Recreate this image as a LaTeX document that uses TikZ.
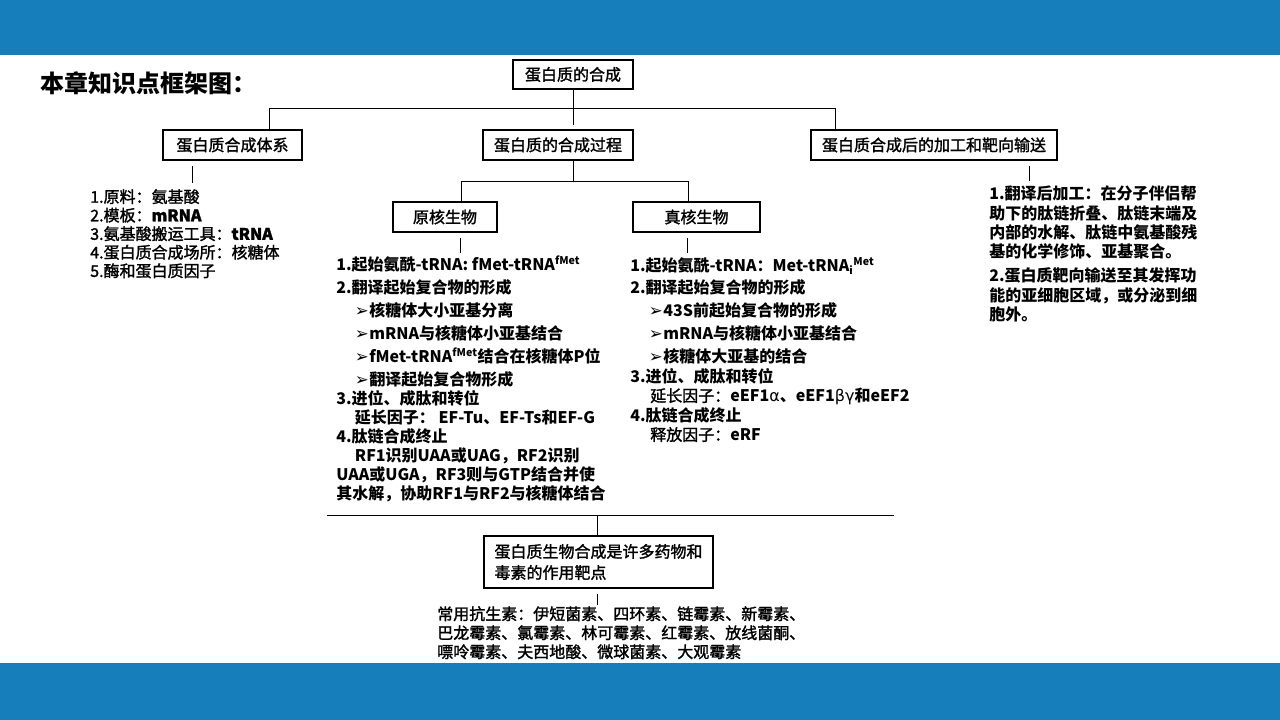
\documentclass[tikz,border=0pt]{standalone}
\usepackage{fontspec}
\setmainfont{Noto Sans CJK SC}
\newfontfamily\medfont{Noto Sans CJK SC}[FakeBold=1.6]
\newfontfamily\djv{DejaVu Sans}
\definecolor{bandblue}{RGB}{22,127,187}
\newcommand{\myarr}{\raisebox{0.3pt}{\djv\mdseries\fontsize{12.5}{12}\selectfont ➢}\hspace{0.3pt}}
\tikzset{
  box/.style={draw, line width=1.6pt, inner sep=0pt, align=center, font=\medfont\fontsize{12}{14}\selectfont},
  link/.style={draw, line width=0.75pt},
  stub/.style={draw, line width=0.75pt, shorten <=4pt},
  txt/.style={inner sep=0pt, anchor=north west, align=left},
}
\begin{document}
\begin{tikzpicture}[x=0.75pt,y=-0.75pt]
\useasboundingbox (0,0) rectangle (1280,720);
\fill[bandblue] (0,0) rectangle (1280,55);
\fill[bandblue] (0,663) rectangle (1280,720);

\node[anchor=west, inner sep=0pt, font=\fontsize{18}{20}\selectfont\bfseries] (title) at (40,83) {本章知识点框架图：};

% boxes
\node[box, minimum width=90pt, minimum height=21.75pt] (root) at (573,74.5) {蛋白质的合成};
\node[box, minimum width=104.25pt, minimum height=22.5pt] (sys) at (232.5,145) {蛋白质合成体系};
\node[box, minimum width=112.5pt, minimum height=22.5pt] (proc) at (558,145) {蛋白质的合成过程};
\node[box, minimum width=184.5pt, minimum height=22.5pt] (post) at (934,145) {蛋白质合成后的加工和靶向输送};
\node[box, minimum width=78pt, minimum height=22.5pt] (pro) at (445,217) {原核生物};
\node[box, minimum width=95.25pt, minimum height=22.5pt] (euk) at (696.5,217) {真核生物};
\node[box, minimum width=171.75pt, minimum height=38.5pt, align=left, font=\medfont\fontsize{12}{15.75}\selectfont] (target) at (598.5,562) {蛋白质生物合成是许多药物和\\毒素的作用靶点};

% connector coordinates
\coordinate (busL) at (269,109);
\coordinate (busR) at (835,109);
\coordinate (b2L) at (461,182);
\coordinate (b2R) at (688,182);
\coordinate (sysS) at (192,183);
\coordinate (proS) at (460,253);
\coordinate (eukS) at (687,253);
\coordinate (postS) at (1029,181);
\coordinate (hL) at (327,515);
\coordinate (hR) at (894,515);
\coordinate (hM) at (597,515);
\coordinate (tS) at (597,605);

\draw[link] (busL |- sys.north) -- (busL) -- (busR) -- (busR |- post.north);
\draw[link, shorten >=3pt] (root.south) -- (root.south |- proc.north);
\draw[link] (b2L |- pro.north) -- (b2L) -- (b2R) -- (b2R |- euk.north);
\draw[link] (root.south |- proc.south) -- (root.south |- b2L);
\draw[stub] (sysS |- sys.south) -- (sysS);
\draw[stub] (proS |- pro.south) -- (proS);
\draw[stub] (eukS |- euk.south) -- (eukS);
\draw[stub] (postS |- post.south) -- (postS);
\draw[link] (hL) -- (hR);
\draw[link] (hM) -- (hM |- target.north);
\draw[stub] (tS |- target.south) -- (tS);

% text blocks
\node[txt, font=\medfont\fontsize{12}{13.9}\selectfont] (syslist) at (90,189) {%
1.原料：氨基酸\\
2.模板：\textbf{mRNA}\\
3.氨基酸搬运工具：\textbf{tRNA}\\
4.蛋白质合成场所：核糖体\\
5.酶和蛋白质因子};

\node[txt, font=\fontsize{12}{14.25}\selectfont\bfseries] (prolist) at (336,256) {%
1.起始氨酰-tRNA: fMet-tRNA\textsuperscript{fMet}\\[3pt]
2.翻译起始复合物的形成\\[3pt]
\hspace*{14pt}\myarr 核糖体大小亚基分离\\[3pt]
\hspace*{14pt}\myarr mRNA与核糖体小亚基结合\\[3pt]
\hspace*{14pt}\myarr fMet-tRNA\textsuperscript{fMet}结合在核糖体P位\\[3pt]
\hspace*{14pt}\myarr 翻译起始复合物形成\\
3.进位、成肽和转位\\
\hspace*{14pt}延长因子：\ EF-Tu、EF-Ts和EF-G\\
4.肽链合成终止\\
\hspace*{14pt}RF1识别UAA或UAG，RF2识别\\
UAA或UGA，RF3则与GTP结合并使\\
其水解，协助RF1与RF2与核糖体结合};

\node[txt, font=\fontsize{12}{14.6}\selectfont\bfseries] (euklist) at (630,257) {%
1.起始氨酰-tRNA：Met-tRNA\textsubscript{i}\textsuperscript{Met}\\[2.6pt]
2.翻译起始复合物的形成\\[2.6pt]
\hspace*{14pt}\myarr 43S前起始复合物的形成\\[2.6pt]
\hspace*{14pt}\myarr mRNA与核糖体小亚基结合\\[2.6pt]
\hspace*{14pt}\myarr 核糖体大亚基的结合\\
3.进位、成肽和转位\\
\hspace*{15pt}{\medfont\mdseries 延长因子：}eEF1{\djv\mdseries α}、eEF1{\djv\mdseries βγ}和eEF2\\
4.肽链合成终止\\
\hspace*{15pt}{\medfont\mdseries 释放因子：}eRF};

\node[txt, font=\fontsize{12}{14.5}\selectfont\bfseries] (postlist) at (989,186) {%
1.翻译后加工：在分子伴侣帮\\
助下的肽链折叠、肽链末端及\\
内部的水解、肽链中氨基酸残\\
基的化学修饰、亚基聚合。\\[3.5pt]
2.蛋白质靶向输送至其发挥功\\
能的亚细胞区域，或分泌到细\\
胞外。};

\node[txt, font=\medfont\fontsize{12}{14.25}\selectfont] (drugs) at (437,606) {%
常用抗生素：伊短菌素、四环素、链霉素、新霉素、\\
巴龙霉素、氯霉素、林可霉素、红霉素、放线菌酮、\\
嘌呤霉素、夫西地酸、微球菌素、大观霉素};
\end{tikzpicture}
\end{document}
